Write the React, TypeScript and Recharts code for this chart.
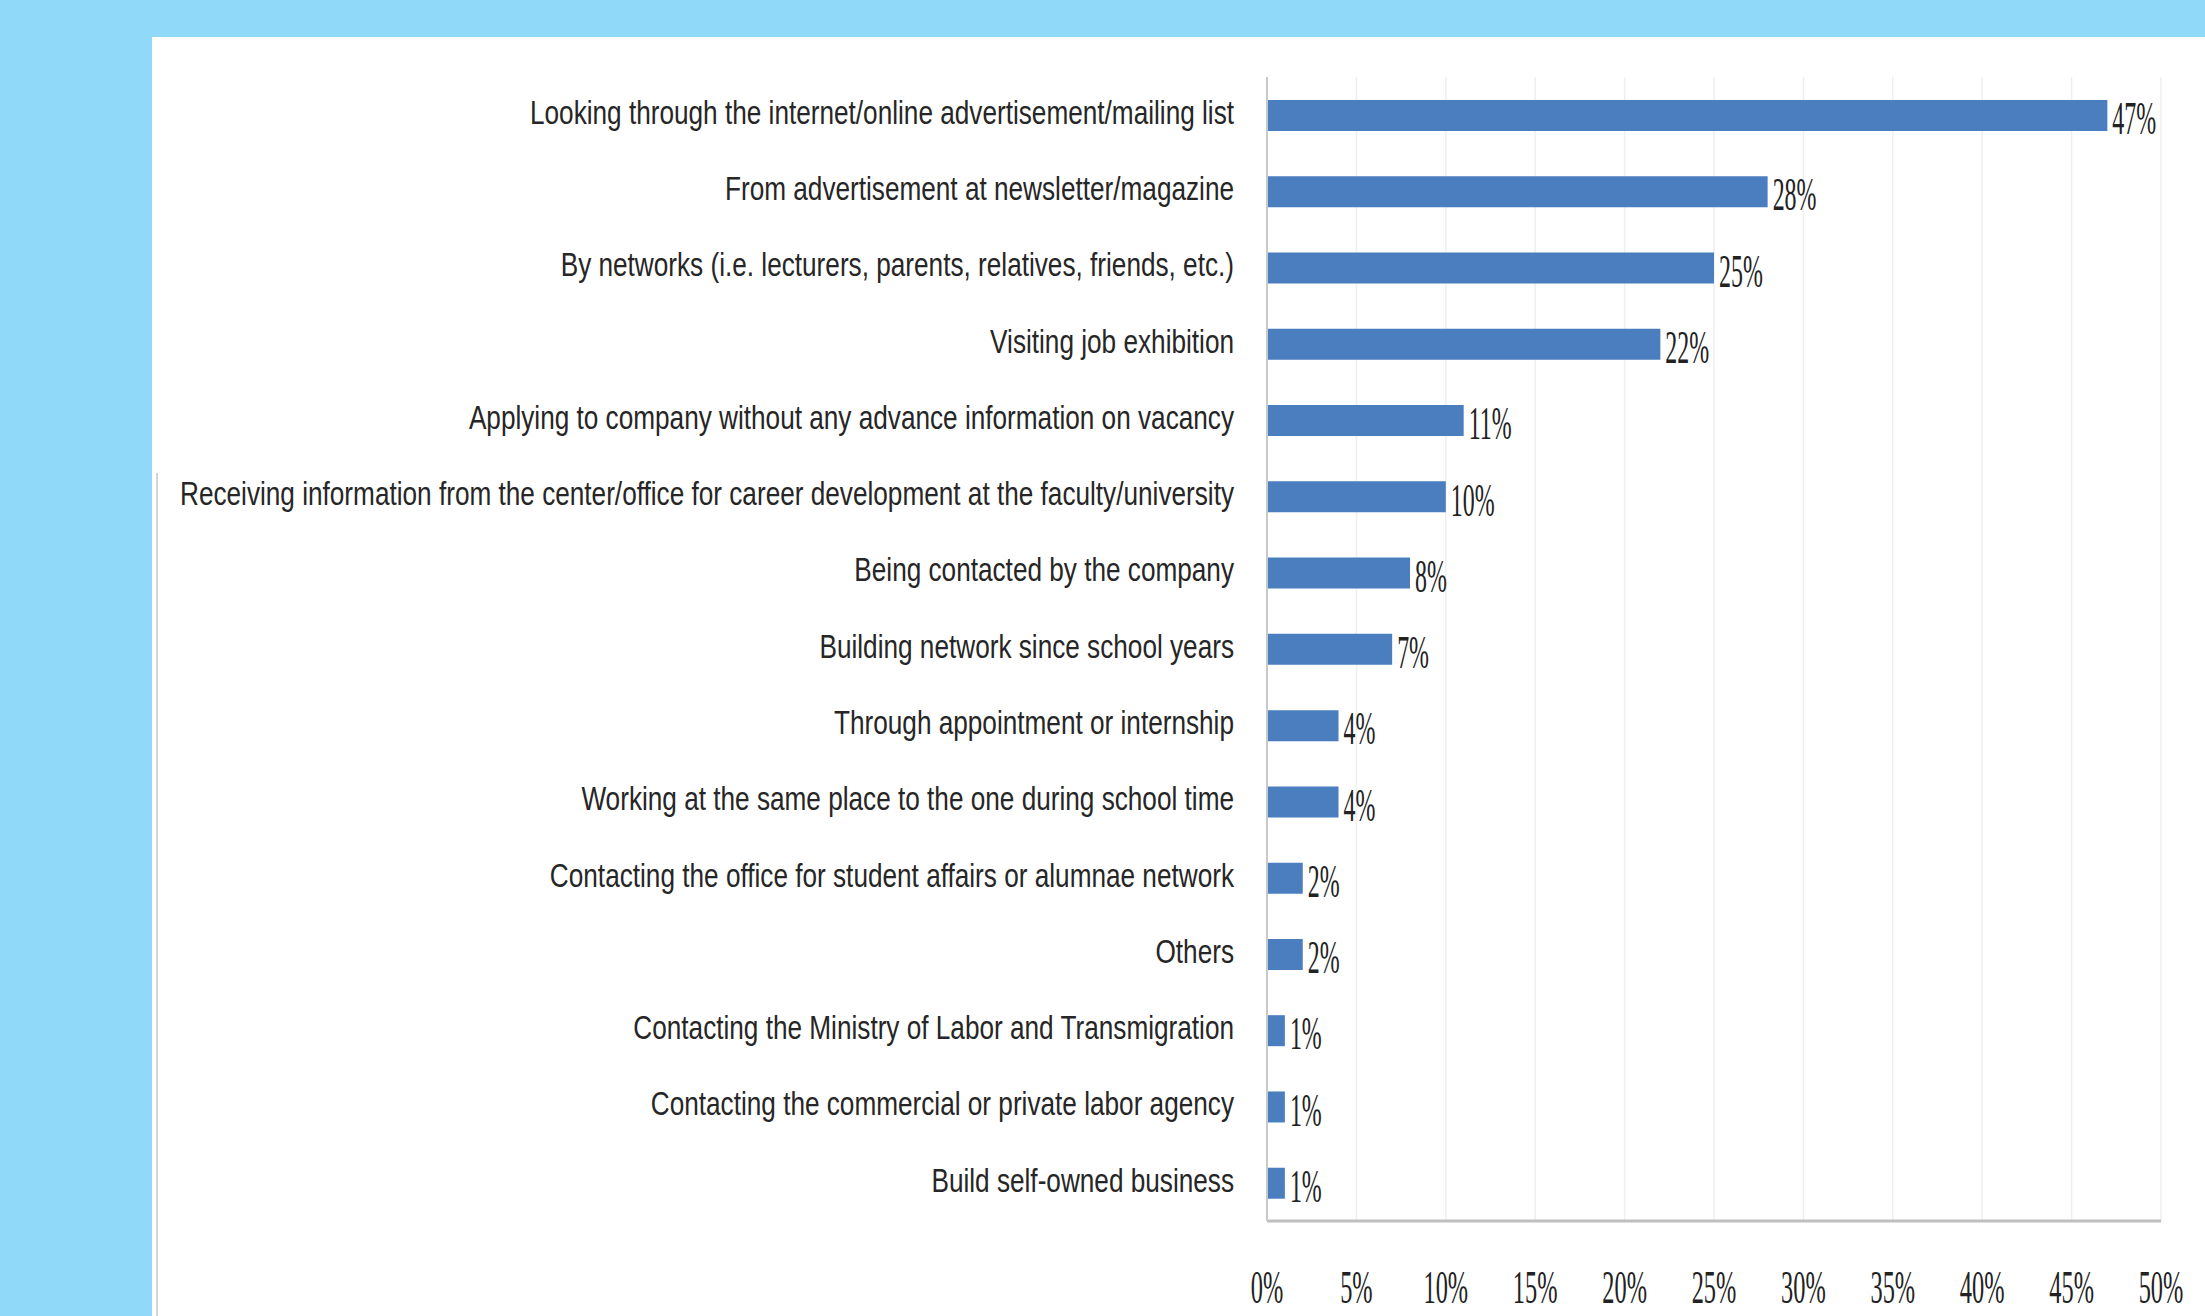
import React from "react";
import {
  BarChart,
  Bar,
  XAxis,
  YAxis,
  CartesianGrid,
  LabelList,
} from "recharts";

const categories: string[] = [
  "Looking through the internet/online advertisement/mailing list",
  "From advertisement at newsletter/magazine",
  "By networks (i.e. lecturers, parents, relatives, friends, etc.)",
  "Visiting job exhibition",
  "Applying to company without any advance information on vacancy",
  "Receiving information from the center/office for career development at the faculty/university",
  "Being contacted by the company",
  "Building network since school years",
  "Through appointment or internship",
  "Working at the same place to the one during school time",
  "Contacting the office for student affairs or alumnae network",
  "Others",
  "Contacting the Ministry of Labor and Transmigration",
  "Contacting the commercial or private labor agency",
  "Build self-owned business",
];

const shares: number[] = [47, 28, 25, 22, 11, 10, 8, 7, 4, 4, 2, 2, 1, 1, 1];

const xTicks: number[] = [0, 5, 10, 15, 20, 25, 30, 35, 40, 45, 50];

const data = categories.map((name, i) => ({ name, value: shares[i] }));

const W = 2205;
const H = 1316;

const CategoryTick = (props: any) => {
  const { x, y, payload } = props;
  return (
    <g transform={`translate(${x - 33},${y - 3})`}>
      <text
        transform="scale(0.77,1)"
        textAnchor="end"
        dominantBaseline="central"
        fontFamily="'Liberation Sans', Arial, sans-serif"
        fontSize={34}
        fill="#262626"
      >
        {payload.value}
      </text>
    </g>
  );
};

const PercentTick = (props: any) => {
  const { x, y, payload } = props;
  return (
    <g transform={`translate(${x},${y + 66})`}>
      <text
        transform="scale(0.53,1)"
        textAnchor="middle"
        dominantBaseline="central"
        fontFamily="'Liberation Serif', 'Times New Roman', serif"
        fontSize={46}
        fill="#222"
      >
        {`${payload.value}%`}
      </text>
    </g>
  );
};

const ValueLabel = (props: any) => {
  const { x, y, width, height, value } = props;
  return (
    <g transform={`translate(${x + width + 5},${y + height / 2 + 3})`}>
      <text
        transform="scale(0.52,1)"
        textAnchor="start"
        dominantBaseline="central"
        fontFamily="'Liberation Serif', 'Times New Roman', serif"
        fontSize={46}
        fill="#222"
      >
        {`${value}%`}
      </text>
    </g>
  );
};

export default function App() {
  return (
    <div
      style={{
        position: "fixed",
        left: 0,
        top: 0,
        width: W,
        height: H,
        background: "#91d9f9",
        overflow: "hidden",
      }}
    >
      <div
        style={{
          position: "absolute",
          left: 152,
          top: 37,
          right: 0,
          bottom: 0,
          background: "#ffffff",
        }}
      />
      {/* faint frame remnant on the left of the slide */}
      <div
        style={{
          position: "absolute",
          left: 156,
          top: 473,
          width: 2,
          bottom: 0,
          background: "#d4d4d4",
        }}
      />
      <div style={{ position: "absolute", left: 0, top: 0 }}>
        <BarChart
          width={W}
          height={H}
          data={data}
          layout="vertical"
          margin={{ top: 77, right: 44, bottom: 0, left: 0 }}
          barCategoryGap="60%"
        >
          <CartesianGrid horizontal={false} stroke="#efefef" strokeWidth={1.5} />
          <XAxis
            type="number"
            domain={[0, 50]}
            ticks={xTicks}
            interval={0}
            tickLine={false}
            tickSize={0}
            tickMargin={0}
            axisLine={{ stroke: "#bfbfbf", strokeWidth: 3 }}
            tick={<PercentTick />}
            height={95}
          />
          <YAxis
            type="category"
            dataKey="name"
            width={1267}
            interval={0}
            tickLine={false}
            tickSize={0}
            tickMargin={0}
            axisLine={{ stroke: "#c8c8c8", strokeWidth: 2 }}
            tick={<CategoryTick />}
          />
          <Bar dataKey="value" fill="#4a7ebf" barSize={31} isAnimationActive={false}>
            <LabelList dataKey="value" content={<ValueLabel />} />
          </Bar>
        </BarChart>
      </div>
    </div>
  );
}
